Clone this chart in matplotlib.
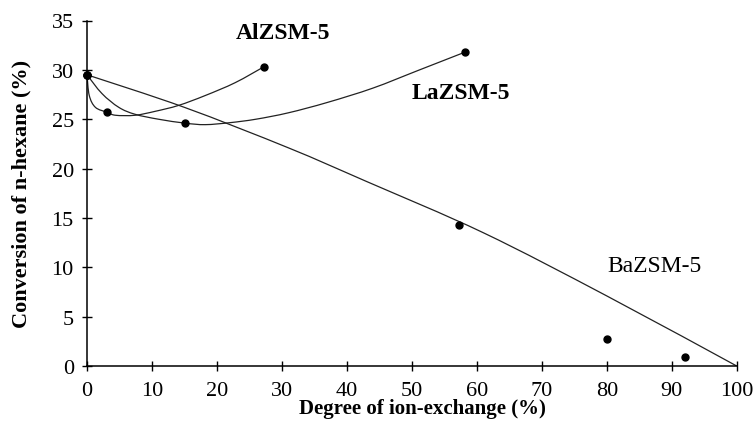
import numpy as np
import matplotlib
matplotlib.use("Agg")
import matplotlib.pyplot as plt
from matplotlib.path import Path
from matplotlib.patches import PathPatch

al_x = [0, 3.1, 27.2]
al_y = [29.5, 25.7, 30.3]
la_x = [0, 15.1, 58.2]
la_y = [29.5, 24.6, 31.8]
ba_x = [0, 57.2, 80.0, 92.0]
ba_y = [29.5, 14.3, 2.7, 0.9]

# ---- points read along the drawn (smoothed) lines ----
al_line_x = [0, 0.35, 1.3, 3.1, 4.4, 7.4, 10.5, 14.1, 18.2, 22.8, 27.2]
al_line_y = [29.5, 27.4, 26.2, 25.7, 25.4, 25.4, 25.8, 26.4, 27.4, 28.7, 30.3]
la_line_x = [0, 2.3, 4.9, 7.4, 11.0, 15.1, 18.2, 22, 26, 31, 37, 44, 51, 58.2]
la_line_y = [29.5, 27.6, 26.2, 25.5, 25.0, 24.6, 24.45, 24.65, 25.0, 25.65, 26.7, 28.15, 29.95, 31.8]
ba_line_x = [0, 15, 31, 43, 61, 80, 100]
ba_line_y = [29.5, 26.2, 22.1, 18.7, 13.5, 7.1, 0.0]

x_ticks = [0, 10, 20, 30, 40, 50, 60, 70, 80, 90, 100]
y_ticks = [0, 5, 10, 15, 20, 25, 30, 35]

labels = ["AlZSM-5", "LaZSM-5", "BaZSM-5"]
label_pos = [(30.2, 33.8), (57.5, 27.7), (87.4, 10.2)]
label_weight = ["bold", "bold", "normal"]

plt.rcParams['font.family'] = ['Liberation Serif', 'DejaVu Serif']


def smooth_path(xs, ys):
    """Smoothed line: cubic Bezier segments with Catmull-Rom tangents."""
    P = np.column_stack([xs, ys]).astype(float)
    n = len(P)
    verts = [P[0]]
    codes = [Path.MOVETO]
    for i in range(n - 1):
        p0 = P[i - 1] if i > 0 else P[i]
        p1 = P[i]
        p2 = P[i + 1]
        p3 = P[i + 2] if i + 2 < n else P[i + 1]
        c1 = p1 + (p2 - p0) / 6.0
        c2 = p2 - (p3 - p1) / 6.0
        verts += [c1, c2, p2]
        codes += [Path.CURVE4] * 3
    return Path(verts, codes)


fig = plt.figure(figsize=(7.56, 4.35), dpi=100)
ax = fig.add_axes([87 / 756, (435 - 367) / 435, (736.7 - 87) / 756, (367 - 21.5) / 435])

line_color = '#222222'
for xs, ys in [(al_line_x, al_line_y), (la_line_x, la_line_y), (ba_line_x, ba_line_y)]:
    patch = PathPatch(smooth_path(xs, ys), facecolor='none', edgecolor=line_color,
                      lw=0.9, transform=ax.transData)
    patch.set_clip_path(ax.patch)
    ax.add_patch(patch)

for xs, ys in [(al_x, al_y), (la_x, la_y), (ba_x, ba_y)]:
    ax.plot(xs, ys, linestyle='none', marker='o', markersize=5, color='black',
            clip_on=False, zorder=5)

for txt, (tx, ty), w in zip(labels, label_pos, label_weight):
    ax.text(tx, ty, txt, ha='center', va='center', fontsize=17, fontweight=w)

ax.set_xlim(0, 100)
ax.set_ylim(0, 35)
ax.set_xticks(x_ticks)
ax.set_yticks(y_ticks)
ax.tick_params(direction='inout', length=7, width=1, labelsize=16, color='black')
ax.tick_params(axis='x', pad=7)
ax.tick_params(axis='y', pad=6)
for s in ['top', 'right']:
    ax.spines[s].set_visible(False)
for s in ['left', 'bottom']:
    ax.spines[s].set_linewidth(1.1)
    ax.spines[s].set_color('black')

ax.set_xlabel("Degree of ion-exchange (%)", fontsize=15, fontweight='bold')
ax.xaxis.set_label_coords(0.516, -0.122)
ax.xaxis.label.set_va('center')
ax.set_ylabel("Conversion of n-hexane (%)", fontsize=16, fontweight='bold')
ax.yaxis.set_label_coords(-0.1015, 0.5)
ax.yaxis.label.set_va('center')

fig.savefig("out.png", dpi=100)
